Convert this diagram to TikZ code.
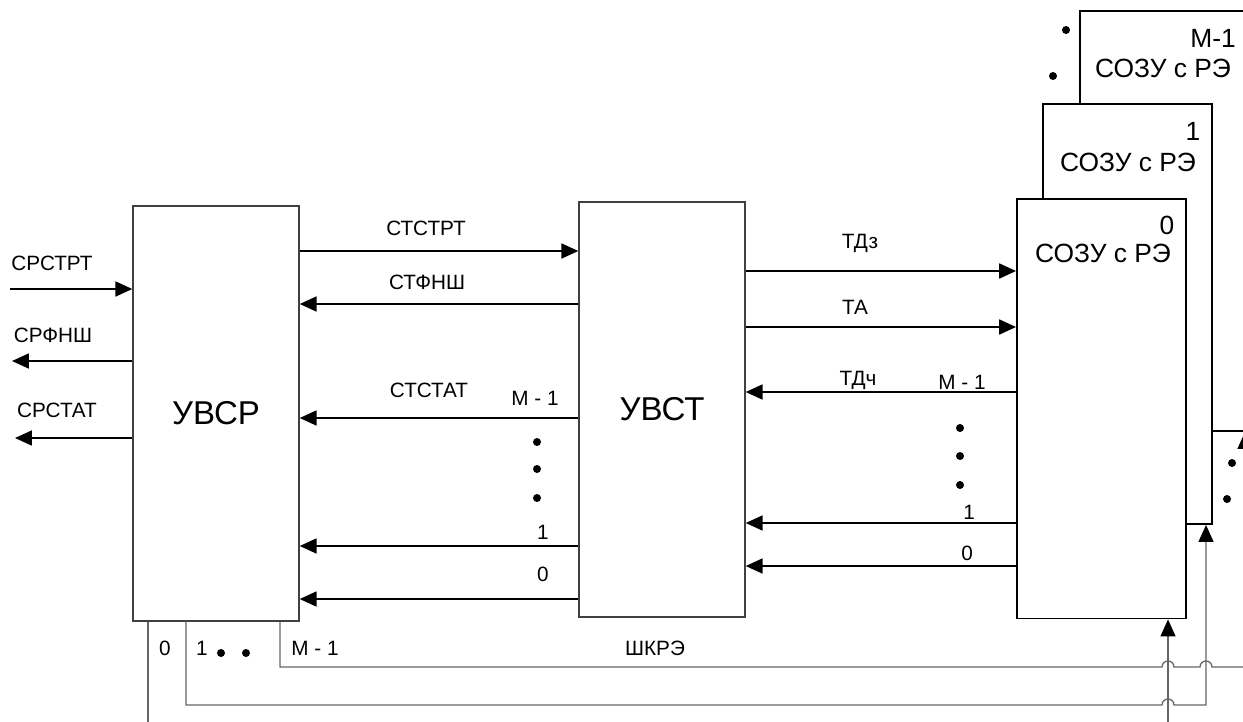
\documentclass[tikz,border=0pt]{standalone}
\usepackage{fontspec}
\setmainfont{Liberation Sans}
\usetikzlibrary{arrows.meta,positioning}
\tikzset{
  unitbox/.style  ={draw=black!75, fill=white, line width=0.8pt, inner sep=0pt,
                    minimum width=3.32cm, minimum height=8.3cm,
                    font=\fontsize{18.8}{22}\selectfont},
  ramblock/.style ={draw=black, fill=white, line width=1.1pt, inner sep=0pt,
                    minimum width=3.38cm, minimum height=8.4cm},
  sigarr/.style   ={-{Triangle[length=9.6pt,width=8.5pt]}, line width=1.1pt},
  busline/.style  ={draw=black!60, line width=0.75pt},
  busarr/.style   ={busline, -{Triangle[length=9.6pt,width=8.5pt,color=black]}},
  ramlbl/.style   ={font=\fontsize{15}{17}\selectfont, inner sep=0pt},
  siglbl/.style   ={font=\fontsize{11.8}{14}\selectfont, inner sep=0pt},
}

\begin{document}
\begin{tikzpicture}[x=0.02cm,y=-0.02cm]
        \path[use as bounding box,clip] (0,0) rectangle (1243,721);

        % control units
        \node[unitbox] (uvsr) at (216,413.5) {УВСР};
        \node[unitbox] (uvst) at (662,409.5) {УВСТ};

        % memory blocks, back to front
        \node[ramblock] (sozum) at (1164.5,221) {};
        \node[ramblock] (sozu1) at (1127.5,314) {};
        \node[ramblock] (sozu0) at (1101.5,408.5) {};
        \node[ramlbl] (nm) at (1213,38)  {M-1};
        \node[ramlbl] (tm) at (1163,68)  {СОЗУ с РЭ};
        \node[ramlbl] (n1) at (1193,131) {1};
        \node[ramlbl] (t1) at (1128,162) {СОЗУ с РЭ};
        \node[ramlbl] (n0) at (1167,225) {0};
        \node[ramlbl] (t0) at (1103,253) {СОЗУ с РЭ};
        \fill (1066,30) circle[radius=4] (1053,76) circle[radius=4];
        \fill (1232,463) circle[radius=4] (1227,499) circle[radius=4];

        % outer signals
        \coordinate (inR) at (10,289);
        \coordinate (outF) at (12,361);
        \coordinate (outS) at (15,438);
        \draw[sigarr] (inR) -- (uvsr.west |- inR);
        \draw[sigarr] (uvsr.west |- outF) -- (outF);
        \draw[sigarr] (uvsr.west |- outS) -- (outS);
        \node[siglbl] (lsrstrt) at (52,263) {СРСТРТ};
        \node[siglbl] (lsrfnsh) at (53,335) {СРФНШ};
        \node[siglbl] (lsrstat) at (57,410) {СРСТАТ};

        % УВСР -- УВСТ
        \draw[sigarr] (uvsr.east |- 0,251) -- (uvst.west |- 0,251);
        \draw[sigarr] (uvst.west |- 0,304) -- (uvsr.east |- 0,304);
        \draw[sigarr] (uvst.west |- 0,418) -- (uvsr.east |- 0,418);
        \draw[sigarr] (uvst.west |- 0,546) -- (uvsr.east |- 0,546);
        \draw[sigarr] (uvst.west |- 0,599) -- (uvsr.east |- 0,599);
        \node[siglbl] (lststrt) at (426,228) {СТСТРТ};
        \node[siglbl] (ltfnsh)  at (427,282) {СТФНШ};
        \node[siglbl] (ltstat)  at (429,390) {СТСТАТ};
        \node[siglbl] (ltm)     at (535,398) {M - 1};
        \node[siglbl] (lt1)     at (543,532) {1};
        \node[siglbl] (lt0)     at (543,574) {0};
        \fill (537,442) circle[radius=4] (537,469) circle[radius=4] (537,498) circle[radius=4];

        % УВСТ -- СОЗУ
        \draw[sigarr] (uvst.east |- 0,271) -- (sozu0.west |- 0,271);
        \draw[sigarr] (uvst.east |- 0,327) -- (sozu0.west |- 0,327);
        \draw[sigarr] (sozu0.west |- 0,392) -- (uvst.east |- 0,392);
        \draw[sigarr] (sozu0.west |- 0,523) -- (uvst.east |- 0,523);
        \draw[sigarr] (sozu0.west |- 0,566) -- (uvst.east |- 0,566);
        \node[siglbl] (ltdz) at (860,243) {ТДз};
        \node[siglbl] (lta)  at (855,307) {ТА};
        \node[siglbl] (ltdc) at (858,380) {ТДч};
        \node[siglbl] (ldm)  at (962,382) {M - 1};
        \node[siglbl] (ld1)  at (969,512) {1};
        \node[siglbl] (ld0)  at (967,553) {0};
        \fill (960,428) circle[radius=4] (960,456) circle[radius=4] (960,485) circle[radius=4];

        % ШКРЭ bus
        \draw[busarr] (uvsr.south -| 148,0) -- (148,740) -- (1168,740) -- (sozu0.south -| 1168,0);
        \draw[busarr] (uvsr.south -| 186,0) -- (186,705) -- (1162,705)
          arc[start angle=180,end angle=360,radius=6] -- (1206,705) -- (sozu1.south -| 1206,0);
        \draw[busarr] (uvsr.south -| 280,0) -- (280,667) -- (1162,667)
          arc[start angle=180,end angle=360,radius=6] -- (1200,667)
          arc[start angle=180,end angle=360,radius=6] -- (1245,667) -- (sozum.south -| 1245,0);
        \node[siglbl] (lb0)   at (165,648) {0};
        \node[siglbl] (lb1)   at (202,648) {1};
        \node[siglbl] (lbm)   at (315,648) {M - 1};
        \node[siglbl] (lbus)  at (655,648) {ШКРЭ};
        \fill (221,653) circle[radius=4] (246,653) circle[radius=4];
      \end{tikzpicture}
\end{document}
